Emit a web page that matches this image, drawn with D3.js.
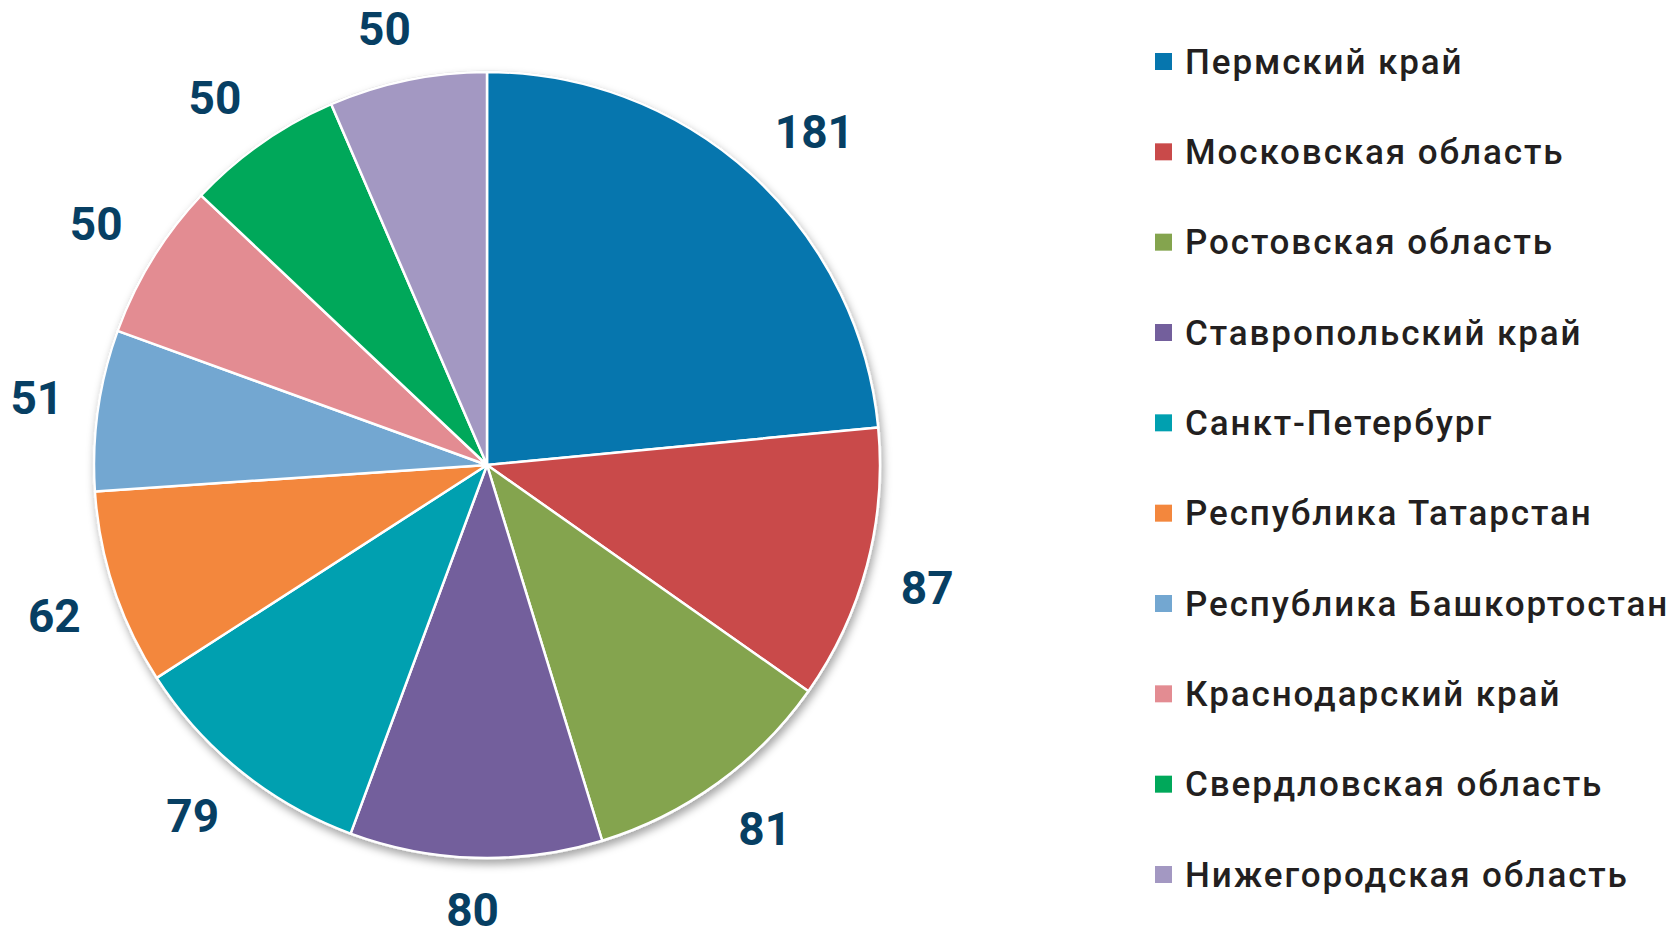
<!DOCTYPE html>
<html>
<head>
<meta charset="utf-8">
<script src="https://cdn.jsdelivr.net/npm/d3@7"></script>
<style>
  body { margin: 0; background: #fff; }
  svg { display: block; }
</style>
</head>
<body>
<div id="chart"></div>
<script>
// Regions and values, clockwise from 12 o'clock
const regions = [
  'Пермский край', 'Московская область', 'Ростовская область',
  'Ставропольский край', 'Санкт-Петербург', 'Республика Татарстан',
  'Республика Башкортостан', 'Краснодарский край',
  'Свердловская область', 'Нижегородская область'
];
const values = [181, 87, 81, 80, 79, 62, 51, 50, 50, 50];
const colors = [
  '#0676ae', '#c94a4a', '#84a44e', '#735f9c', '#00a0b0',
  '#f3873d', '#73a7d1', '#e38c92', '#00a85a', '#a398c2'
];

const width = 1672;
const height = 933;
const cx = 487;
const cy = 465;
const radius = 393;
const labelGap = 35;

const svg = d3.select('#chart')
  .append('svg')
  .attr('width', width)
  .attr('height', height);

// soft shadow under the pie
const defs = svg.append('defs');
const filter = defs.append('filter')
  .attr('id', 'shadow')
  .attr('x', '-10%').attr('y', '-10%')
  .attr('width', '120%').attr('height', '120%');
filter.append('feDropShadow')
  .attr('dx', 2).attr('dy', 5)
  .attr('stdDeviation', 4)
  .attr('flood-color', '#000')
  .attr('flood-opacity', 0.35);

const g = svg.append('g')
  .attr('transform', `translate(${cx},${cy})`);

g.append('circle')
  .attr('r', radius + 1)
  .attr('fill', '#fff')
  .attr('stroke', '#d8d8d8')
  .attr('stroke-width', 1)
  .attr('filter', 'url(#shadow)');

const pie = d3.pie().sort(null);
const arc = d3.arc().innerRadius(0).outerRadius(radius);
const labelArc = d3.arc().innerRadius(radius + labelGap).outerRadius(radius + labelGap);

const slices = g.selectAll('.slice')
  .data(pie(values))
  .enter()
  .append('g')
  .attr('class', 'slice');

slices.append('path')
  .attr('d', arc)
  .attr('fill', (d, i) => colors[i])
  .attr('stroke', '#fff')
  .attr('stroke-width', 2.5)
  .attr('stroke-linejoin', 'round');

// value labels outside the pie, shifted off the rim by half their box
const clamp = v => Math.max(-1, Math.min(1, v * 3));
slices.append('text')
  .attr('dy', '0.36em')
  .attr('text-anchor', 'middle')
  .attr('font-family', 'Roboto, sans-serif')
  .attr('font-weight', 700)
  .attr('font-size', 46)
  .attr('fill', '#073f63')
  .text(d => d.data)
  .each(function(d) {
    const halfW = this.getBBox().width / 2;
    const a = (d.startAngle + d.endAngle) / 2;
    const [px, py] = labelArc.centroid(d);
    const x = px + halfW * clamp(Math.sin(a));
    const y = py - 17 * clamp(Math.cos(a));
    d3.select(this).attr('transform', `translate(${x},${y})`);
  });

// Legend
const legendY = d3.scalePoint()
  .domain(regions)
  .range([61, 874]);

const legend = svg.append('g')
  .selectAll('.item')
  .data(regions)
  .enter()
  .append('g')
  .attr('class', 'item')
  .attr('transform', d => `translate(1155,${legendY(d)})`);

legend.append('rect')
  .attr('x', 0)
  .attr('y', -8)
  .attr('width', 17)
  .attr('height', 17)
  .attr('fill', (d, i) => colors[i]);

legend.append('text')
  .attr('x', 30)
  .attr('dy', '0.36em')
  .attr('font-family', 'Roboto, sans-serif')
  .attr('font-weight', 500)
  .attr('font-size', 35)
  .attr('letter-spacing', 1.9)
  .attr('fill', '#231f20')
  .text(d => d);
</script>
</body>
</html>
